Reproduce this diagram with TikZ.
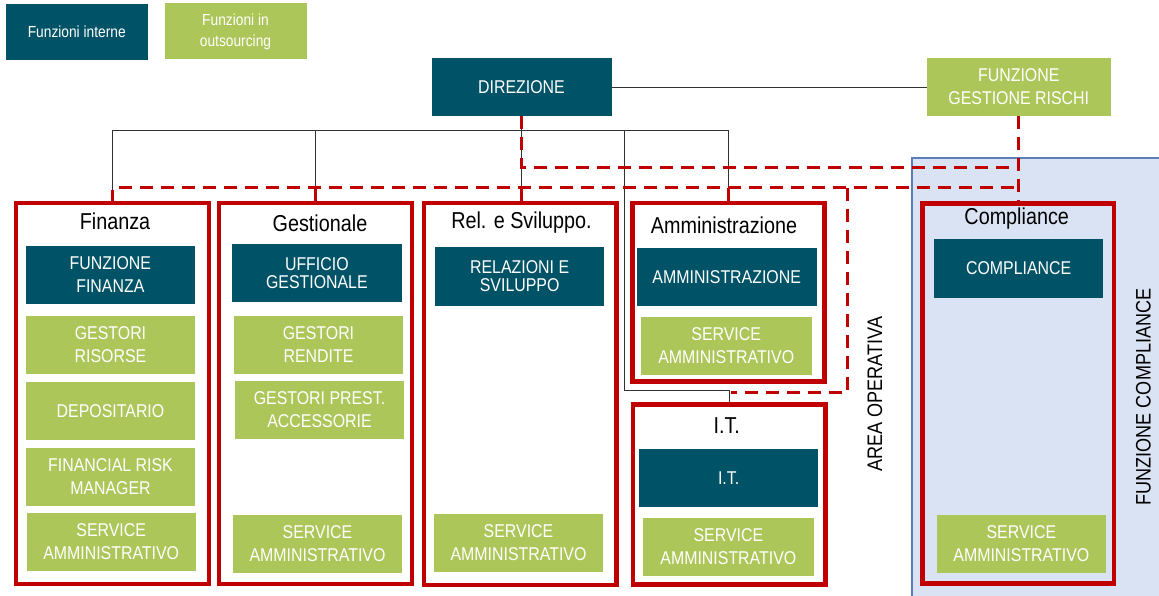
\documentclass[tikz,border=0pt]{standalone}
\usepackage{fontspec}
\setmainfont{Liberation Sans}[FakeStretch=0.86]
\definecolor{tealbox}{RGB}{0,83,103}
\definecolor{greenbox}{RGB}{173,198,90}
\definecolor{redc}{RGB}{192,0,0}
\definecolor{bluefill}{RGB}{218,227,243}
\definecolor{blueline}{RGB}{90,126,181}
\definecolor{linec}{RGB}{50,50,50}
\begin{document}
\begin{tikzpicture}[x=1pt,y=-1pt,
  box/.style={draw=none, inner sep=0pt, outer sep=0pt, align=center, text=white,
    font=\fontsize{18.5}{23}\selectfont},
  intbox/.style={box, fill=tealbox},
  extbox/.style={box, fill=greenbox},
  tight/.style={font=\fontsize{18.5}{18}\selectfont},
  legtext/.style={font=\fontsize{16}{21}\selectfont},
  redbox/.style={draw=redc, line width=4.5pt, inner sep=0pt, outer sep=0pt},
  titletext/.style={font=\fontsize{23}{26}\selectfont, text=black, inner sep=0pt},
  sidetext/.style={font=\fontsize{21}{24}\selectfont, text=black, inner sep=0pt, rotate=90},
  conn/.style={draw=linec, line width=1pt},
  rdash/.style={draw=redc, line width=3pt, dash pattern=on 13pt off 8pt},
  rsolid/.style={draw=redc, line width=3pt},
]
\useasboundingbox (0,0) rectangle (1159,596);

% compliance area
\begin{scope}
\clip (0,0) rectangle (1159,596);
\filldraw[fill=bluefill, draw=blueline, line width=1.5pt] (912,158) rectangle (1175,615);
\end{scope}

% legend
\node[intbox, legtext, minimum width=141.5pt, minimum height=55.5pt] (leg1) at (76.75,32.25) {Funzioni interne};
\node[extbox, legtext, minimum width=142pt, minimum height=56pt] (leg2) at (235.5,31.5) {Funzioni in\\outsourcing};

% top nodes
\node[intbox, minimum width=180pt, minimum height=58pt] (DIR) at (521.5,87.5) {DIREZIONE};
\node[extbox, minimum width=184.5pt, minimum height=58pt] (FGR) at (1018.75,86.7) {FUNZIONE\\GESTIONE RISCHI};

% red group boxes
\node[redbox, minimum width=193pt, minimum height=381pt] (finB) at (112.5,393.5) {};
\node[redbox, minimum width=193pt, minimum height=381pt] (gesB) at (315.5,393.5) {};
\node[redbox, minimum width=192.5pt, minimum height=382pt] (relB) at (520.25,394) {};
\node[redbox, minimum width=192pt, minimum height=178.5pt] (ammB) at (728.5,292.25) {};
\node[redbox, minimum width=192.7pt, minimum height=180pt] (itB) at (729.35,494.3) {};
\node[redbox, minimum width=191.5pt, minimum height=380pt] (coB) at (1018.25,393.3) {};

% connectors (black)
\coordinate (busR) at (728.5,130.5);
\coordinate (itj) at (624,390);
\draw[conn] (DIR.east) -- (DIR.east -| FGR.west);
\draw[conn] (finB.north) |- (busR) -- (ammB.north);
\draw[conn] (gesB.north) -- (gesB.north |- busR);
\draw[conn] (DIR.south) -- (DIR.south |- relB.north);
\draw[conn] (itj |- busR) -- (itj) -| (itB.north);

% connectors (red dashed)
\coordinate (d1) at (1018.75,167.5);
\coordinate (d2) at (1018.75,188);
\coordinate (d3) at (847,188);
\coordinate (d4) at (847,392.5);
\coordinate (d5) at (731,392.5);
\draw[rdash] (FGR.south) -- (FGR.south |- coB.north);
\draw[rdash] (DIR.south) |- (d1);
\draw[rdash] (finB.north) |- (d2);
\draw[rsolid] (gesB.north) -- (gesB.north |- d2);
\draw[rsolid] (DIR.south |- relB.north) -- (DIR.south |- d2);
\draw[rsolid] (ammB.north) -- (ammB.north |- d2);
\draw[rdash] (d3) -- (d4) -- (d5);

% redraw red boxes on top
\draw[redc, line width=4.5pt] (finB.north west) rectangle (finB.south east);
\draw[redc, line width=4.5pt] (gesB.north west) rectangle (gesB.south east);
\draw[redc, line width=4.5pt] (relB.north west) rectangle (relB.south east);
\draw[redc, line width=4.5pt] (ammB.north west) rectangle (ammB.south east);
\draw[redc, line width=4.5pt] (itB.north west) rectangle (itB.south east);
\draw[redc, line width=4.5pt] (coB.north west) rectangle (coB.south east);

% titles
\node[titletext] (tfin) at (115,221) {Finanza};
\node[titletext] (tges) at (320,223) {Gestionale};
\node[titletext] (trel) at (521.5,222.5) {Rel. e Sviluppo.};
\node[titletext] (tamm) at (724,225) {Amministrazione};
\node[titletext] (tit) at (726.7,426) {I.T.};
\node[titletext] (tco) at (1016.7,219) {Compliance};

% Finanza column
\node[intbox, minimum width=169.3pt, minimum height=58pt] (ff) at (110.35,275) {FUNZIONE\\FINANZA};
\node[extbox, minimum width=169pt, minimum height=58pt] (gr) at (110.5,345) {GESTORI\\RISORSE};
\node[extbox, minimum width=169pt, minimum height=58pt] (dep) at (110.5,411) {DEPOSITARIO};
\node[extbox, minimum width=169pt, minimum height=58pt] (frm) at (110.5,477) {FINANCIAL RISK\\MANAGER};
\node[extbox, minimum width=169pt, minimum height=58pt] (sa1) at (111.2,541.7) {SERVICE\\AMMINISTRATIVO};

% Gestionale column
\node[intbox, tight, minimum width=169.7pt, minimum height=58pt] (ug) at (316.85,273) {UFFICIO\\GESTIONALE};
\node[extbox, minimum width=169pt, minimum height=57.5pt] (grn) at (318.5,344.75) {GESTORI\\RENDITE};
\node[extbox, minimum width=169pt, minimum height=58pt] (gpa) at (319.5,410) {GESTORI PREST.\\ACCESSORIE};
\node[extbox, minimum width=169pt, minimum height=57.7pt] (sa2) at (317.5,543.85) {SERVICE\\AMMINISTRATIVO};

% Rel. e Sviluppo column
\node[intbox, tight, minimum width=169.3pt, minimum height=58.7pt] (rs) at (519.65,276.35) {RELAZIONI E\\SVILUPPO};
\node[extbox, minimum width=169pt, minimum height=58pt] (sa3) at (518.5,542.7) {SERVICE\\AMMINISTRATIVO};

% Amministrazione column
\node[intbox, minimum width=180pt, minimum height=58.3pt] (am) at (726.7,276.85) {AMMINISTRAZIONE};
\node[extbox, minimum width=171pt, minimum height=58.3pt] (sa4) at (726.2,345.85) {SERVICE\\AMMINISTRATIVO};

% I.T. column
\node[intbox, minimum width=179.3pt, minimum height=58pt] (itn) at (728.65,477.7) {I.T.};
\node[extbox, minimum width=171.3pt, minimum height=58pt] (sa5) at (728.35,547) {SERVICE\\AMMINISTRATIVO};

% Compliance column
\node[intbox, minimum width=169.3pt, minimum height=58.4pt] (co) at (1018.65,268.5) {COMPLIANCE};
\node[extbox, minimum width=169.3pt, minimum height=57.7pt] (sa6) at (1021.35,543.85) {SERVICE\\AMMINISTRATIVO};

% side labels
\node[sidetext] (ao) at (875,394) {AREA OPERATIVA};
\node[sidetext] (fc) at (1143.3,397) {FUNZIONE COMPLIANCE};
\end{tikzpicture}
\end{document}
